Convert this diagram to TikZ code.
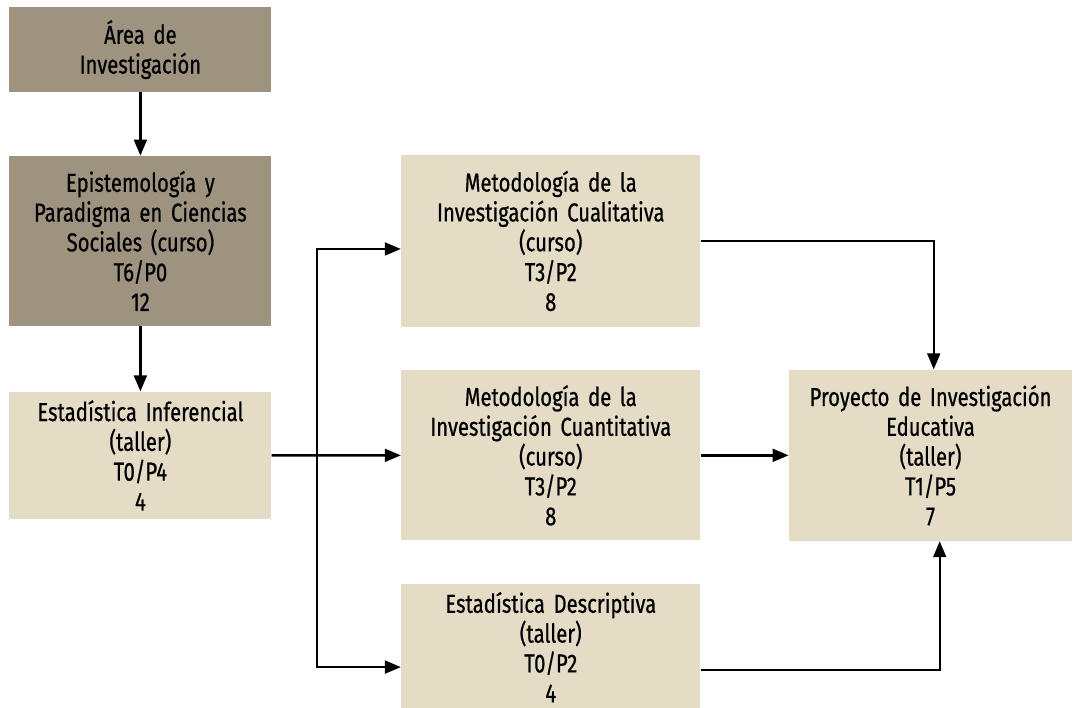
\documentclass[tikz,border=0pt]{standalone}
\usepackage{fontspec}
\setmainfont{Fira Sans}[FakeStretch=0.78, FakeBold=0.6, WordSpace=0.8]
\usepackage{tikz}
\usetikzlibrary{arrows.meta, positioning, calc}
\definecolor{coredark}{HTML}{9D937F}
\definecolor{corelight}{HTML}{E5DCC6}

\begin{document}
\begin{tikzpicture}[
    box/.style={rectangle, fill=#1, minimum width=6.55cm, text width=6.3cm, inner sep=0pt,
      font=\fontsize{18.5}{21.2}\selectfont, align=center},
    arr/.style={-{Triangle[length=4mm, width=3.2mm]}, line width=1.7pt},
    node distance=1.58cm,
  ]
  \useasboundingbox (0,0) rectangle (27.075,-17.7);

  \node[box=coredark, minimum height=2.13cm] (area) at (3.51,-1.24) {Área de\\Investigación};
  \node[box=coredark, minimum height=4.25cm, below=1.58cm of area] (epist) {Epistemología y\\Paradigma en Ciencias\\Sociales (curso)\\T6/P0\\12};
  \node[box=corelight, minimum height=3.18cm, below=1.63cm of epist] (infer) {Estadística Inferencial\\(taller)\\T0/P4\\4};

  \node[box=corelight, minimum width=7.48cm, minimum height=4.28cm, right=3.23cm of epist] (cuali) {Metodología de la\\Investigación Cualitativa\\(curso)\\T3/P2\\8};
  \node[box=corelight, minimum width=7.48cm, minimum height=4.25cm, below=1.08cm of cuali] (cuanti) {Metodología de la\\Investigación Cuantitativa\\(curso)\\T3/P2\\8};
  \node[box=corelight, minimum width=7.48cm, minimum height=3.15cm, below=1.08cm of cuanti] (descr) {Estadística Descriptiva\\(taller)\\T0/P2\\4};

  \node[box=corelight, minimum width=7.08cm, minimum height=4.28cm, right=2.2cm of cuanti] (proy) {Proyecto de Investigación\\Educativa\\(taller)\\T1/P5\\7};

  \coordinate (fork) at ($(infer.east)+(1.13,0)$);

  \draw[arr] (area) -- (epist);
  \draw[arr] (epist) -- (infer);
  \draw[arr] (infer.east) -- (cuanti.west);
  \draw[arr] (fork) |- ($(cuali.west)+(0,-0.2)$);
  \draw[arr] (fork) |- ($(descr.west)+(0,-0.5)$);
  \draw[arr] (cuali.east) -| ($(proy.north)+(0.08,0)$);
  \draw[arr] (cuanti) -- (proy);
  \draw[arr] ($(descr.east)+(0,-0.58)$) -| ($(proy.south)+(0.23,0)$);
\end{tikzpicture}
\end{document}
